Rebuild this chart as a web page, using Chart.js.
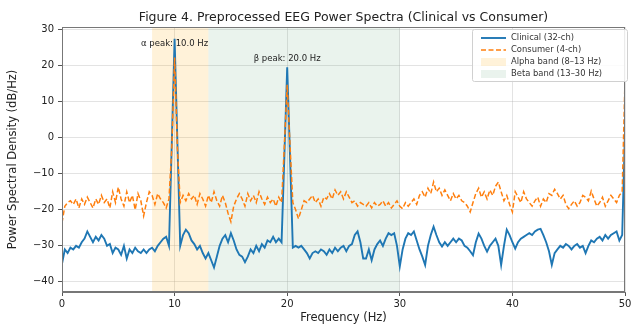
<!DOCTYPE html>
<html>
<head>
<meta charset="utf-8">
<script src="https://cdn.jsdelivr.net/npm/chart.js@4.4.1/dist/chart.umd.min.js"></script>
<style>
  html, body { margin: 0; padding: 0; background: #fff; }
  #wrap { width: 636px; height: 325px; }
</style>
</head>
<body>
<div id="wrap"><canvas id="psd" width="636" height="325"></canvas></div>
<script>
// frequency grid: 0..50 Hz, 0.25 Hz bins
const freqStep = 0.25;

// PSD in dB/Hz, one row per Hz (f, f+.25, f+.5, f+.75)
const clinical = [
  -35, -31, -32, -30.5,
  -31, -30, -30.5, -29,
  -28, -26, -27.5, -29,
  -27.5, -28.5, -27, -28,
  -30, -29.5, -32, -30.5,
  -31, -32.5, -30, -33.5,
  -31, -32, -30.5, -31.5,
  -32, -31, -32, -31,
  -30.5, -31.5, -30, -29,
  -28, -27.5, -30, -1.5,
  27.4, -1.5, -30, -27,
  -25.5, -26.5, -28.5, -29.5,
  -31, -30, -32, -33.5,
  -32, -34, -36, -33,
  -30, -28, -27, -29,
  -26.5, -28.5, -31, -32.5,
  -33, -34.5, -33, -31,
  -32, -30, -31.5, -29.5,
  -30.5, -28.5, -29, -27.5,
  -29, -28, -29, -5,
  19.5, -5, -30.5, -30,
  -30.5, -30, -31, -32,
  -33.5, -32, -31.5, -32,
  -31, -31.5, -32.5, -31,
  -32, -30.5, -31.5, -30.5,
  -30, -31.5, -30, -29.5,
  -27, -26, -29, -33.5,
  -33.5, -31, -34, -31,
  -29.5, -28.5, -30, -28,
  -26.5, -27, -26.5, -30,
  -35.7, -31, -28, -26.5,
  -27, -26, -28.5, -31,
  -33, -35.3, -30, -27,
  -24.7, -27, -29, -30.2,
  -29, -30, -29, -28,
  -29, -28, -28.5, -30,
  -30.5, -31.5, -32.6, -29,
  -26.6, -28, -30, -31.6,
  -30, -29, -28, -30,
  -35.3, -30, -25.5, -27,
  -29, -30.8, -29, -28,
  -27.5, -27, -26.5, -27,
  -26, -25.5, -25.3, -27,
  -29, -31.5, -35.3, -32,
  -31, -30, -30.5, -29.5,
  -30, -31, -30, -29.5,
  -30.5, -30, -32, -30,
  -28.5, -29, -28, -27.5,
  -28.5, -27, -28, -27,
  -26.5, -26, -28.5, -27,
  2
];

const consumer = [
  -23.6, -19, -18, -17.5,
  -18.5, -17, -19.5, -17,
  -18.5, -16.5, -18, -19.5,
  -17, -18.5, -16, -18,
  -17, -19.5, -15, -18,
  -13.7, -17, -19, -15,
  -18, -16, -20, -15.5,
  -17.5, -21.7, -18, -15,
  -16, -18.5, -15.5, -17,
  -18, -19.5, -17, -3,
  22.2, -3, -18, -16,
  -17.5, -15.5, -17, -16,
  -18.5, -15.5, -17, -19,
  -16, -18, -15, -17.5,
  -19, -16, -18, -21,
  -23.3, -19, -17, -15.5,
  -17, -19, -15.5, -17.5,
  -16, -18, -15, -17,
  -18.5, -16.5, -18, -17,
  -19, -16.5, -18, -2,
  14.7, -2, -18, -20,
  -22.5, -20, -17.5, -18,
  -17, -16, -18, -17,
  -19, -16.5, -17, -15.5,
  -17, -14.5, -16, -15,
  -17, -15, -16.5, -18,
  -17.5, -19, -18, -18.5,
  -19, -18, -19.5, -18,
  -19, -18.5, -17.5, -19,
  -18, -19.5, -18.5, -17.5,
  -19, -19.7, -18, -19,
  -18, -17, -18.5, -16,
  -15, -16.5, -14, -15.5,
  -12.3, -15, -14, -16,
  -14.5, -16, -17.5, -15.5,
  -17, -16, -17.5, -18,
  -19, -20.6, -18, -15.5,
  -14, -16.5, -15, -17,
  -14.5, -16, -13.5, -12.3,
  -15, -17.5, -16, -18.5,
  -20.6, -15, -16.5, -18,
  -15, -17, -18, -19,
  -17.5, -16.5, -19, -17,
  -18, -15.5, -16, -14.3,
  -15.5, -17, -16, -18.5,
  -19.7, -18.5, -17.5, -19,
  -18, -16, -16.5, -17.5,
  -14.8, -17, -19, -18,
  -16.5, -19, -17.5, -16,
  -17, -18, -16, -15,
  16
];

const freqs = clinical.map((v, i) => i * freqStep);

const xTicks = [0, 10, 20, 30, 40, 50];
const yTicks = [-40, -30, -20, -10, 0, 10, 20, 30];

const alphaBand = [8, 13];
const betaBand = [13, 30];

const peakFreqs = [10, 20];
const peakLabelY = [26, 21.8];
const peakLabels = ['α peak: 10.0 Hz', 'β peak: 20.0 Hz'];

const titleText = 'Figure 4. Preprocessed EEG Power Spectra (Clinical vs Consumer)';

const FONT = '"DejaVu Sans", sans-serif';
const ALPHA_FILL = 'rgba(255,165,0,0.15)';
const BETA_FILL = 'rgba(60,150,90,0.11)';

const toPoints = (arr) => arr.map((v, i) => ({ x: freqs[i], y: v }));

const bandsPlugin = {
    id: 'bands',
    beforeDatasetsDraw(chart) {
        const { ctx, chartArea, scales } = chart;
        ctx.save();
        [[alphaBand, ALPHA_FILL], [betaBand, BETA_FILL]].forEach(([b, c]) => {
            const x0 = scales.x.getPixelForValue(b[0]);
            const x1 = scales.x.getPixelForValue(b[1]);
            ctx.fillStyle = c;
            ctx.fillRect(x0, chartArea.top, x1 - x0, chartArea.bottom - chartArea.top);
        });
        ctx.restore();
    }
};

const decorPlugin = {
    id: 'decor',
    afterDatasetsDraw(chart) {
        const { ctx, chartArea, scales } = chart;
        ctx.save();

        // frame
        ctx.strokeStyle = '#777';
        ctx.lineWidth = 1;
        ctx.strokeRect(chartArea.left + 0.5, chartArea.top + 0.5,
            chartArea.right - chartArea.left - 1, chartArea.bottom - chartArea.top - 1);

        // peak annotations
        ctx.fillStyle = '#222';
        ctx.font = '8.5px ' + FONT;
        ctx.textAlign = 'center';
        ctx.textBaseline = 'middle';
        peakFreqs.forEach((f, i) => {
            ctx.fillText(peakLabels[i], scales.x.getPixelForValue(f), scales.y.getPixelForValue(peakLabelY[i]));
        });

        // title
        ctx.font = '12.5px ' + FONT;
        ctx.fillStyle = '#222';
        ctx.textBaseline = 'alphabetic';
        ctx.fillText(titleText, (chartArea.left + chartArea.right) / 2, 21);

        // legend
        const lx = 472, ly = 29, lw = 155, lh = 52;
        ctx.fillStyle = 'rgba(255,255,255,0.85)';
        ctx.strokeStyle = '#d0d0d0';
        ctx.beginPath();
        ctx.roundRect(lx + 0.5, ly + 0.5, lw, lh, 2);
        ctx.fill();
        ctx.stroke();

        const rows = [38, 50, 62, 74];
        const items = chart.data.datasets.map(d => d.label)
            .concat(['Alpha band (8–13 Hz)', 'Beta band (13–30 Hz)']);
        ctx.font = '8.4px ' + FONT;
        ctx.textAlign = 'left';
        ctx.textBaseline = 'middle';
        items.forEach((txt, i) => {
            const y = rows[i];
            if (i < 2) {
                const ds = chart.data.datasets[i];
                ctx.strokeStyle = ds.borderColor;
                ctx.lineWidth = ds.borderWidth;
                ctx.setLineDash(ds.borderDash || []);
                ctx.beginPath();
                ctx.moveTo(481, y);
                ctx.lineTo(506, y);
                ctx.stroke();
                ctx.setLineDash([]);
            } else {
                ctx.fillStyle = i === 2 ? ALPHA_FILL : BETA_FILL;
                ctx.fillRect(481, y - 4, 25, 8);
            }
            ctx.fillStyle = '#333';
            ctx.fillText(txt, 511, y);
        });

        ctx.restore();
    }
};

const tickFont = { family: FONT, size: 10 };
const labelFont = { family: FONT, size: 11.5 };
const minus = (v) => String(v).replace('-', '\u2212');

new Chart(document.getElementById('psd'), {
    type: 'line',
    data: {
        datasets: [
            {
                label: 'Clinical (32-ch)',
                data: toPoints(clinical),
                borderColor: '#1f77b4',
                borderWidth: 1.9,
                pointRadius: 0,
                order: 1
            },
            {
                label: 'Consumer (4-ch)',
                data: toPoints(consumer),
                borderColor: '#ff7f0e',
                borderWidth: 1.5,
                borderDash: [5, 2.5],
                pointRadius: 0,
                order: 0
            }
        ]
    },
    options: {
        responsive: false,
        animation: false,
        layout: { padding: { top: 27, right: 11, left: 0, bottom: 0 } },
        plugins: {
            legend: { display: false },
            title: { display: false },
            tooltip: { enabled: false }
        },
        scales: {
            x: {
                type: 'linear',
                min: 0,
                max: 50,
                afterFit: (s) => { s.height = 33; },
                afterBuildTicks: (s) => { s.ticks = xTicks.map(v => ({ value: v })); },
                ticks: { font: tickFont, color: '#222', padding: 2, maxRotation: 0 },
                grid: { color: 'rgba(176,176,176,0.35)', tickColor: '#555', tickLength: 4 },
                border: { color: '#777' },
                title: { display: true, text: 'Frequency (Hz)', font: labelFont, color: '#222', padding: { top: 0, bottom: 0 } }
            },
            y: {
                min: -42.8,
                max: 30.7,
                afterFit: (s) => { s.width = 62; },
                afterBuildTicks: (s) => { s.ticks = yTicks.map(v => ({ value: v })); },
                ticks: { font: tickFont, color: '#222', padding: 4, callback: (v) => minus(v) },
                grid: { color: 'rgba(176,176,176,0.35)', tickColor: '#555', tickLength: 4 },
                border: { color: '#777' },
                title: { display: true, text: 'Power Spectral Density (dB/Hz)', font: labelFont, color: '#222', padding: { top: 6, bottom: 0 } }
            }
        }
    },
    plugins: [bandsPlugin, decorPlugin]
});
</script>
</body>
</html>
